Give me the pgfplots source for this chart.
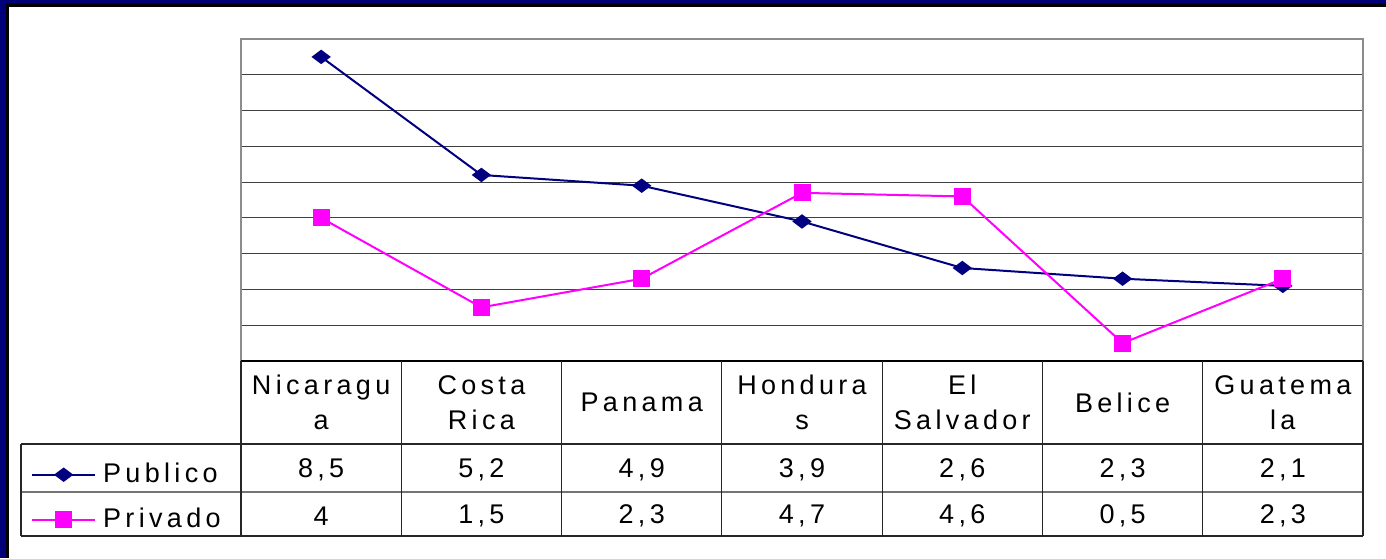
\documentclass[border=0pt]{standalone}
\usepackage{pgfplots}
\pgfplotsset{compat=1.18}
\usepackage{fontspec}
\setmainfont{Liberation Sans}[LetterSpace=16]
\definecolor{navyb}{RGB}{0,0,128}
\definecolor{magb}{RGB}{255,0,255}
\definecolor{frameblue}{RGB}{0,0,120}
\begin{document}
\fontsize{13.5}{17.5}\selectfont
\begin{tikzpicture}
\begin{scope}[x=0.5pt,y=-0.5pt]
\useasboundingbox (0,0) rectangle (1386,558);
\fill[frameblue] (0,0) rectangle (1386,558);
\fill[black] (6,3) rectangle (1386,558);
\fill[white] (9,7) rectangle (1386,558);
\end{scope}
\begin{axis}[
  at={(120.5pt,-180.5pt)}, anchor=south west,
  width=561pt, height=161pt, scale only axis,
  xmin=0, xmax=7, ymin=0, ymax=9,
  xtick={0.5,1.5,2.5,3.5,4.5,5.5,6.5},
  xticklabels={{Nicaragu\\a},{Costa\\Rica},{Panama},{Hondura\\s},{El\\Salvador},{Belice},{Guatema\\la}},
  ytick={1,2,3,4,5,6,7,8}, yticklabels={},
  ymajorgrids, grid style={draw=black!75, line width=0.5pt},
  major tick length=0pt,
  axis line style={draw=black!45, line width=1pt},
  xticklabel style={anchor=center, yshift=-20.75pt, align=center, font=\fontsize{13.5}{17.5}\selectfont},
  clip=false,
  legend style={at={(axis description cs:-0.187,-0.4497)}, anchor=west, draw=none, fill=none,
    inner sep=0pt, outer sep=0pt, column sep=3.5pt, row sep=0pt,
    font=\fontsize{13.5}{17.5}\selectfont,
    nodes={inner sep=0pt, text height=15pt, text depth=7.5pt}},
  legend cell align=left,
  legend image code/.code={\path (0pt,0pt); \draw[mark repeat=2,mark phase=2] plot coordinates {(0pt,4.3pt) (15.75pt,4.3pt) (31.5pt,4.3pt)};},
]
\addplot[navyb, line width=1pt, mark=diamond*, mark size=4pt, mark options={rotate=90, fill=navyb}]
  coordinates {(0.5,8.5) (1.5,5.2) (2.5,4.9) (3.5,3.9) (4.5,2.6) (5.5,2.3) (6.5,2.1)};
\addlegendentry{\raisebox{4pt}{Publico}}
\addplot[magb, line width=1pt, mark=square*, mark size=3.75pt, mark options={fill=magb}]
  coordinates {(0.5,4) (1.5,1.5) (2.5,2.3) (3.5,4.7) (4.5,4.6) (5.5,0.5) (6.5,2.3)};
\addlegendentry{\raisebox{4pt}{Privado}}
\end{axis}
\begin{scope}[x=0.5pt,y=-0.5pt]
\draw[black, line width=0.6pt] (241,361) -- (1363,361);
\draw[black!85, line width=0.6pt] (21,444) -- (1363,444);
\draw[black!55, line width=0.6pt] (21,492) -- (1363,492);
\draw[black!85, line width=0.6pt] (21,536) -- (1363,536);
\draw[black!85, line width=0.6pt] (21,444) -- (21,536);
\foreach \k in {0,...,7} {\draw[black!85, line width=0.6pt] ({241+160.29*\k},361) -- ({241+160.29*\k},536);}
\foreach \x/\a/\b in {321.1/{8,5}/{4}, 481.4/{5,2}/{1,5}, 641.7/{4,9}/{2,3}, 802/{3,9}/{4,7}, 962.3/{2,6}/{4,6}, 1122.6/{2,3}/{0,5}, 1282.9/{2,1}/{2,3}} {
  \node[inner sep=0pt] at (\x,470) {\a};
  \node[inner sep=0pt] at (\x,516) {\b};
}
\end{scope}
\end{tikzpicture}
\end{document}
